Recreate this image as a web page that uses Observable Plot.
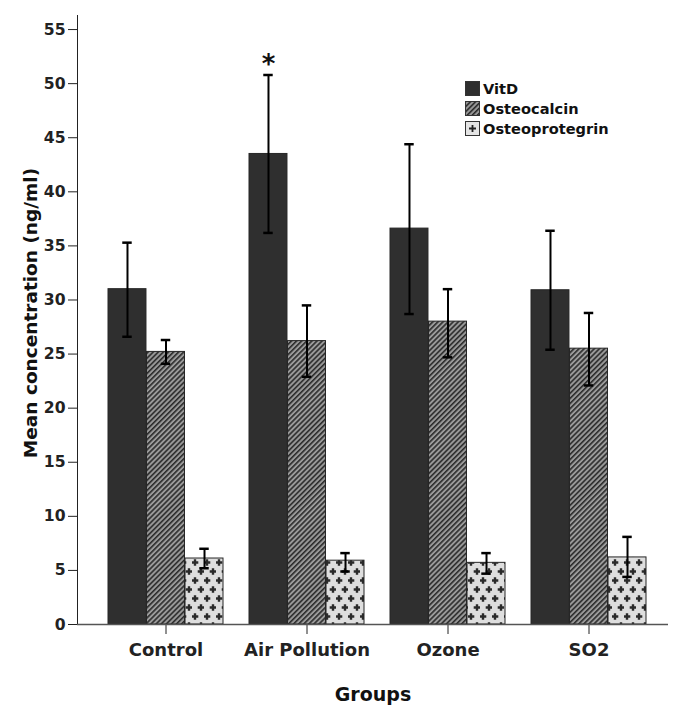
<!DOCTYPE html>
<html><head><meta charset="utf-8">
<script src="https://cdn.jsdelivr.net/npm/d3@7"></script>
<script src="https://cdn.jsdelivr.net/npm/@observablehq/plot@0.6"></script>
<style>
body{margin:0;background:#fff}
#wrap{position:relative;width:686px;height:718px;font-family:"DejaVu Sans",sans-serif}
#wrap svg text{font-weight:bold}
#wrap [aria-label^="x-axis"] text{font-size:18px}
#wrap [aria-label^="y-axis"] text{font-size:15.6px}
.legend{position:absolute;left:465px;top:79px;font:bold 14.6px "DejaVu Sans",sans-serif;color:#111}
.legend .row{display:flex;align-items:center;height:19.7px;white-space:nowrap}
.legend svg{margin-right:3px;flex:none}
</style></head>
<body><div id="wrap"></div>
<script>
// ---- data ----
const groups = ["Control", "Air Pollution", "Ozone", "SO2"];
const series = ["VitD", "Osteocalcin", "Osteoprotegrin"];
const vitd = [31.0, 43.5, 36.6, 30.9];
const vitdLo = [26.6, 36.2, 28.7, 25.4];
const vitdHi = [35.3, 50.8, 44.4, 36.4];
const osteocalcin = [25.2, 26.2, 28.0, 25.5];
const osteocalcinLo = [24.1, 22.9, 24.7, 22.1];
const osteocalcinHi = [26.3, 29.5, 31.0, 28.8];
const osteoprotegrin = [6.1, 5.9, 5.7, 6.2];
const osteoprotegrinLo = [5.2, 4.9, 4.7, 4.4];
const osteoprotegrinHi = [7.0, 6.6, 6.6, 8.1];
const yTicks = [0, 5, 10, 15, 20, 25, 30, 35, 40, 45, 50, 55];
const starGroups = ["Air Pollution"];
const yTitle = "Mean concentration (ng/ml)";
const xTitle = "Groups";

// ---- layout ----
const W = 686, H = 718, ML = 77, MR = 18, MT = 15, MB = 94;
const PI = 0.1835, PO = 0.18, AL = 0.582;
const band = d3.scaleBand(groups, [ML, W - MR]).paddingInner(PI).paddingOuter(PO).align(AL);
const bw = band.bandwidth(), sub = bw / 3;

const sets = {
  VitD: [vitd, vitdLo, vitdHi],
  Osteocalcin: [osteocalcin, osteocalcinLo, osteocalcinHi],
  Osteoprotegrin: [osteoprotegrin, osteoprotegrinLo, osteoprotegrinHi]
};
const rows = series.flatMap((s) => groups.map((g, gi) => ({
  group: g, series: s, value: sets[s][0][gi], lo: sets[s][1][gi], hi: sets[s][2][gi]
})));
const fills = {VitD: "#2f2f2f", Osteocalcin: "url(#pat-stripe)", Osteoprotegrin: "url(#pat-cross)"};

const marks = [];
series.forEach((s, si) => {
  const d = rows.filter((r) => r.series === s);
  marks.push(Plot.barY(d, {x: "group", y: "value", fill: fills[s], stroke: "#262626", strokeWidth: 1,
    insetLeft: si * sub, insetRight: (2 - si) * sub}));
});
marks.push(Plot.ruleY([0], {stroke: "#555", strokeWidth: 1.5}));
series.forEach((s, si) => {
  const d = rows.filter((r) => r.series === s);
  const off = (si - 1) * sub;
  marks.push(Plot.ruleX(d, {x: "group", y1: "lo", y2: "hi", dx: off, stroke: "#000", strokeWidth: 2}));
  marks.push(Plot.tickY(d, {x: "group", y: "hi", dx: off, insetLeft: bw / 2 - 5, insetRight: bw / 2 - 5, stroke: "#000", strokeWidth: 2.5}));
  marks.push(Plot.tickY(d, {x: "group", y: "lo", dx: off, insetLeft: bw / 2 - 5, insetRight: bw / 2 - 5, stroke: "#000", strokeWidth: 2.5}));
});
const stars = rows.filter((r) => r.series === "VitD" && starGroups.includes(r.group));
marks.push(Plot.text(stars, {x: "group", y: "hi", text: () => "*", dx: -sub, dy: -10, fontSize: 26, fontWeight: "bold", fill: "#111", lineAnchor: "middle"}));
marks.push(Plot.text([yTitle], {frameAnchor: "left", rotate: -90, dx: -46, dy: -7, textAnchor: "middle", fontSize: 18.5, fontWeight: "bold", fill: "#111", lineAnchor: "middle"}));
marks.push(Plot.text([xTitle], {frameAnchor: "bottom", dy: 63, fontSize: 19, fontWeight: "bold", fill: "#111", lineAnchor: "top"}));

const plot = Plot.plot({
  width: W, height: H, marginLeft: ML, marginRight: MR, marginTop: MT, marginBottom: MB,
  style: {fontFamily: "DejaVu Sans", fontSize: "15.6px", color: "#222", background: "white", overflow: "visible"},
  x: {domain: groups, paddingInner: PI, paddingOuter: PO, align: AL, tickSize: 10, tickPadding: 9, label: null},
  y: {domain: [0, 56.3], ticks: yTicks, tickSize: 9, tickPadding: 3, line: true, label: null},
  marks
});
document.getElementById("wrap").appendChild(plot);
const svgEl = plot.tagName.toLowerCase() === "svg" ? plot : plot.querySelector("svg");
const svg = d3.select(svgEl);
const defs = svg.insert("defs", ":first-child");
const ps = defs.append("pattern").attr("id", "pat-stripe").attr("patternUnits", "userSpaceOnUse")
  .attr("width", 3.6).attr("height", 3.6).attr("patternTransform", "rotate(45)");
ps.append("rect").attr("width", 3.6).attr("height", 3.6).attr("fill", "#9a9a9a");
ps.append("rect").attr("width", 1.6).attr("height", 3.6).attr("fill", "#2b2b2b");
const pc = defs.append("pattern").attr("id", "pat-cross").attr("patternUnits", "userSpaceOnUse")
  .attr("width", 12).attr("height", 18);
pc.append("rect").attr("width", 12).attr("height", 18).attr("fill", "#dedede");
pc.append("path").attr("d", "M-0.3 4.5H6.3M3 1.2V7.8M5.7 13.5H12.3M9 10.2V16.8")
  .attr("stroke", "#2a2a2a").attr("stroke-width", 2.4).attr("fill", "none");

// ---- legend ----
const legend = d3.select("#wrap").append("div").attr("class", "legend");
series.forEach((s) => {
  const row = legend.append("div").attr("class", "row");
  const sw = row.append("svg").attr("width", 15).attr("height", 15);
  if (s === "Osteoprotegrin") {
    sw.append("rect").attr("x", 0.5).attr("y", 0.5).attr("width", 14).attr("height", 14).attr("fill", "#e4e4e4").attr("stroke", "#333");
    sw.append("path").attr("d", "M4 7.5H11M7.5 4V11").attr("stroke", "#222").attr("stroke-width", 1.8);
  } else {
    sw.append("rect").attr("x", 0.5).attr("y", 0.5).attr("width", 14).attr("height", 14).attr("fill", fills[s]).attr("stroke", "#333");
  }
  row.append("span").text(s);
});
</script></body></html>
